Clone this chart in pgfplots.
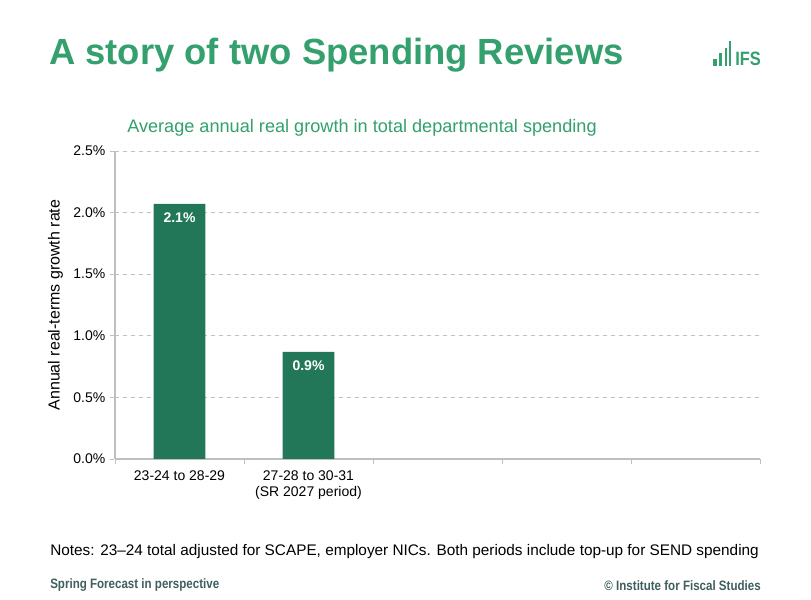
\documentclass[border=0pt]{standalone}
\usepackage{pgfplots}
\pgfplotsset{compat=1.18}
\usepackage{fontspec}
\setmainfont{Liberation Sans}
\newfontfamily\narrowfont[FakeStretch=0.85]{Liberation Sans}
\definecolor{ifsgreen}{HTML}{33A06E}
\definecolor{bargreen}{HTML}{237759}
\definecolor{axisgray}{HTML}{BFBFBF}
\definecolor{footgray}{HTML}{3F5F5F}

\begin{document}
\begin{tikzpicture}[x=0.75pt,y=0.75pt]
  % canvas
  \fill[white] (0,0) rectangle (811,600);

  % title
  \node[anchor=base west, inner sep=0, text=ifsgreen, font=\fontsize{27.3pt}{30pt}\selectfont\bfseries]
    at (49,535) {A story of two Spending Reviews};

  % logo
  \fill[ifsgreen] (713.3,534) rectangle (716.7,540.7);
  \fill[ifsgreen] (719.3,534) rectangle (722.3,547.3);
  \fill[ifsgreen] (724.7,534) rectangle (727.3,551.7);
  \fill[ifsgreen] (728.7,534) rectangle (731.3,559);
  \node[anchor=base west, inner sep=0, text=ifsgreen, font=\fontsize{14.5pt}{16pt}\selectfont\bfseries\narrowfont]
    at (735,534) {IFS};

  % subtitle
  \node[anchor=west, inner sep=0, text=ifsgreen, font=\fontsize{13.6pt}{16pt}\selectfont]
    at (127,472) {Average annual real growth in total departmental spending};

  \begin{axis}[
    at={(86.25pt,105.75pt)}, anchor=south west,
    scale only axis, width=483.75pt, height=231pt,
    xmin=-0.5, xmax=4.5, ymin=0, ymax=2.5,
    axis lines*=left,
    axis line style={axisgray, line width=0.8pt},
    ybar, bar width=0.4, bar shift=0pt,
    tick align=outside,
    major tick length=3.75pt,
    tick style={axisgray, line width=0.6pt},
    % category boundaries carry the tick marks
    xtick={-0.5,0.5,1.5,2.5,3.5,4.5},
    xticklabels={},
    % category names sit between them
    extra x ticks={0,1},
    extra x tick labels={23-24 to 28-29, {27-28 to 30-31\\(SR 2027 period)}},
    extra x tick style={major tick length=0pt, grid=none,
      tick label style={align=center, font=\fontsize{10.5pt}{12.5pt}\selectfont, yshift=-5pt}},
    ytick={0,0.5,...,2.5},
    yticklabel={\pgfmathprintnumber[fixed,fixed zerofill,precision=1]{\tick}\%},
    y tick label style={font=\fontsize{10.5pt}{12pt}\selectfont},
    ytick style={dashed},
    ymajorgrids,
    grid style={axisgray, dashed, line width=0.6pt},
    /pgf/number format/assume math mode=true,
    ylabel={Annual real-terms growth rate},
    ylabel style={font=\fontsize{12pt}{14pt}\selectfont, yshift=1pt},
    clip=false,
    nodes near coords={\pgfmathprintnumber[fixed,fixed zerofill,precision=1]{\pgfplotspointmeta}\%},
    nodes near coords align={below},
    every node near coord/.append style={text=white, font=\fontsize{10.5pt}{12pt}\selectfont\bfseries, anchor=north, yshift=-3pt},
  ]
    \addplot[fill=bargreen, draw=none] coordinates {(0,2.07) (1,0.87)};
  \end{axis}

  % footer
  \node[anchor=west, inner sep=0, font=\fontsize{11.5pt}{13pt}\selectfont]
    at (50,48) {Notes: 23–24 total adjusted for SCAPE, employer NICs. Both periods include top-up for SEND spending};
  \node[anchor=west, inner sep=0, text=footgray, font=\fontsize{10.2pt}{12pt}\selectfont\bfseries\narrowfont]
    at (50,14.5) {Spring Forecast in perspective};
  \node[anchor=east, inner sep=0, text=footgray, font=\fontsize{10.2pt}{12pt}\selectfont\bfseries\narrowfont]
    at (761,14.5) {© Institute for Fiscal Studies};
\end{tikzpicture}
\end{document}
